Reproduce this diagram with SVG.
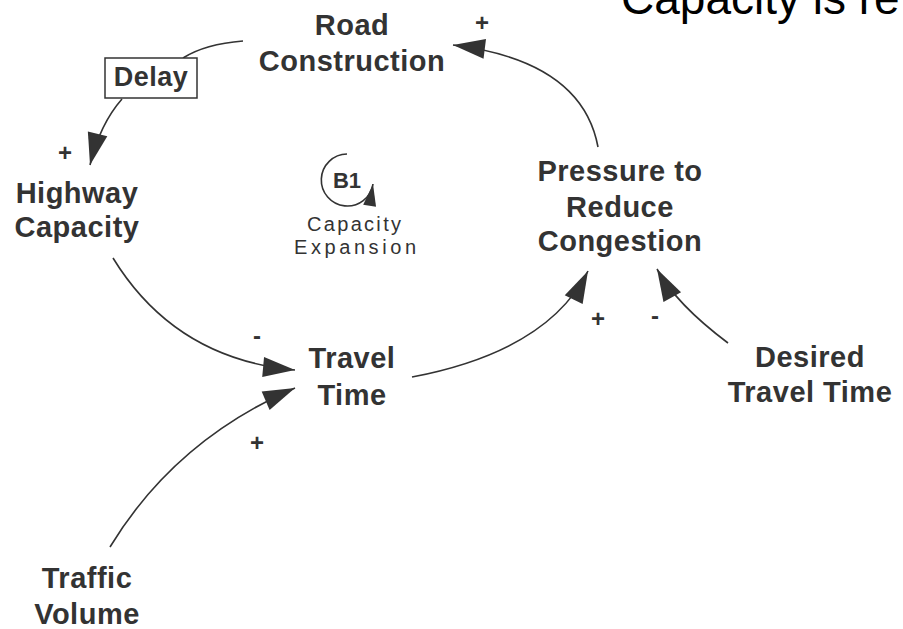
<svg xmlns="http://www.w3.org/2000/svg" width="903" height="629" viewBox="0 0 903 629">
  <defs>
    <!-- long, narrow filled arrowhead; tip sits on the path end -->
    <marker id="head" markerUnits="userSpaceOnUse" markerWidth="34" markerHeight="22" refX="32" refY="10" orient="auto" overflow="visible">
      <path d="M0,0 L32,10 L0,20 Z" fill="#333"/>
    </marker>
    <marker id="loopHead" markerUnits="userSpaceOnUse" markerWidth="24" markerHeight="14" refX="22" refY="6.5" orient="auto" overflow="visible">
      <path d="M0,0 L22,6.5 L0,13 Z" fill="#333"/>
    </marker>
    <style>
      .node { font-family: "Liberation Sans", Arial, Helvetica, sans-serif; font-weight: bold; font-size: 29px; fill: #333; text-anchor: middle; letter-spacing: 0.5px; }
      .sign { font-family: "Liberation Sans", Arial, sans-serif; font-weight: bold; font-size: 24px; fill: #333; text-anchor: middle; }
      .loop { font-family: "Liberation Sans", Arial, sans-serif; font-size: 20px; fill: #333; text-anchor: middle; }
      .link { fill: none; stroke: #333; stroke-width: 1.6; }
      .title { font-family: "Liberation Sans", Arial, sans-serif; font-size: 46px; fill: #000; }
    </style>
  </defs>

  <rect width="903" height="629" fill="#fff"/>

  <text class="title" x="621" y="14">Capacity is re</text>

  <g id="connectors">
    <!-- Pressure to Reduce Congestion -> Road Construction -->
    <path class="link" d="M598,147 Q582,61 453,45" marker-end="url(#head)"/>
    <!-- Road Construction -> Delay -> Highway Capacity -->
    <path class="link" d="M243,41 Q205,44 183,58"/>
    <path class="link" d="M122,99 Q100,124 90,165" marker-end="url(#head)"/>
    <!-- Highway Capacity -> Travel Time -->
    <path class="link" d="M113,258 Q175,359 295,370" marker-end="url(#head)"/>
    <!-- Traffic Volume -> Travel Time -->
    <path class="link" d="M110,547 Q175,440 295,388" marker-end="url(#head)"/>
    <!-- Travel Time -> Pressure to Reduce Congestion -->
    <path class="link" d="M412,377 Q548,351 588,271" marker-end="url(#head)"/>
    <!-- Desired Travel Time -> Pressure to Reduce Congestion -->
    <path class="link" d="M728,343 Q676,304 657,269" marker-end="url(#head)"/>
  </g>

  <g id="polarities">
    <text class="sign" x="482" y="31">+</text>
    <text class="sign" x="65" y="161">+</text>
    <text class="sign" x="257" y="344">-</text>
    <text class="sign" x="257" y="451">+</text>
    <text class="sign" x="598" y="327">+</text>
    <text class="sign" x="655" y="324">-</text>
  </g>

  <g id="road_construction">
    <text class="node" x="352" y="35">Road</text>
    <text class="node" x="352" y="71">Construction</text>
  </g>

  <g id="delay">
    <rect x="105" y="58" width="92" height="40" fill="#fff" stroke="#333" stroke-width="1.5"/>
    <text class="node" x="151" y="86" style="font-size:27px">Delay</text>
  </g>

  <g id="highway_capacity">
    <text class="node" x="77" y="203">Highway</text>
    <text class="node" x="77" y="237">Capacity</text>
  </g>

  <g id="loop_b1">
    <path class="link" d="M347,154 A26,26 0 1 0 373,184" marker-end="url(#loopHead)"/>
    <text x="347" y="188" class="node" style="font-size:22px;letter-spacing:0">B1</text>
    <text class="loop" x="354" y="231" textLength="94" lengthAdjust="spacing">Capacity</text>
    <text class="loop" x="355" y="254" textLength="122" lengthAdjust="spacing">Expansion</text>
  </g>

  <g id="travel_time">
    <text class="node" x="352" y="368">Travel</text>
    <text class="node" x="352" y="405">Time</text>
  </g>

  <g id="pressure_to_reduce_congestion">
    <text class="node" x="620" y="181">Pressure to</text>
    <text class="node" x="620" y="217">Reduce</text>
    <text class="node" x="620" y="251">Congestion</text>
  </g>

  <g id="desired_travel_time">
    <text class="node" x="810" y="367">Desired</text>
    <text class="node" x="810" y="402">Travel Time</text>
  </g>

  <g id="traffic_volume">
    <text class="node" x="87" y="588">Traffic</text>
    <text class="node" x="87" y="624">Volume</text>
  </g>
</svg>
